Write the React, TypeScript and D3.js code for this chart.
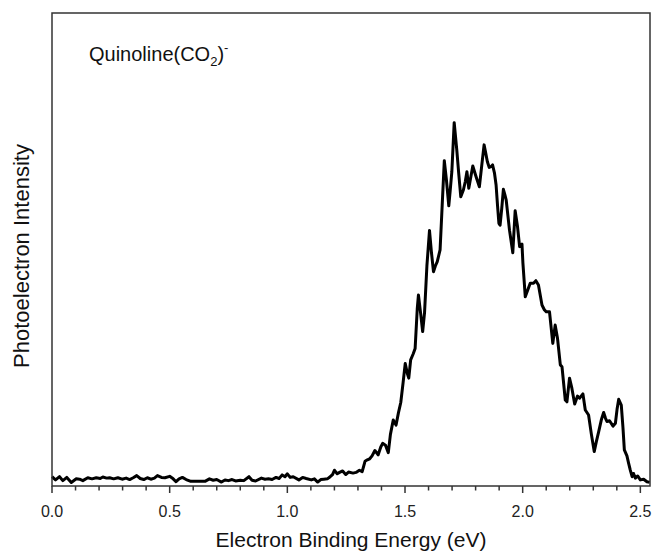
import React from "react";
import * as d3 from "d3";

const energy: number[] = [
  0.000, 0.015, 0.032, 0.046, 0.063, 0.082, 0.103, 0.117, 0.131, 0.152, 0.170, 0.188, 0.205, 0.216, 0.232, 0.245,
  0.262, 0.280, 0.298, 0.315, 0.330, 0.345, 0.360, 0.375, 0.390, 0.405, 0.420, 0.435, 0.448, 0.465, 0.480, 0.500,
  0.515, 0.527, 0.540, 0.554, 0.570, 0.590, 0.610, 0.630, 0.650, 0.669, 0.685, 0.700, 0.720, 0.735, 0.750, 0.765,
  0.780, 0.800, 0.815, 0.837, 0.850, 0.865, 0.890, 0.905, 0.920, 0.935, 0.952, 0.965, 0.978, 0.990, 1.000, 1.012,
  1.025, 1.049, 1.065, 1.080, 1.102, 1.115, 1.129, 1.142, 1.155, 1.170, 1.182, 1.192, 1.200, 1.212, 1.222, 1.235,
  1.248, 1.260, 1.279, 1.292, 1.306, 1.318, 1.330, 1.340, 1.350, 1.360, 1.372, 1.386, 1.397, 1.405, 1.417, 1.429,
  1.438, 1.450, 1.462, 1.472, 1.482, 1.492, 1.501, 1.510, 1.516, 1.524, 1.535, 1.543, 1.552, 1.557, 1.566, 1.575,
  1.583, 1.593, 1.604, 1.612, 1.621, 1.629, 1.637, 1.649, 1.658, 1.667, 1.676, 1.686, 1.692, 1.699, 1.709, 1.720,
  1.728, 1.737, 1.748, 1.756, 1.763, 1.771, 1.780, 1.788, 1.802, 1.816, 1.826, 1.836, 1.843, 1.850, 1.858, 1.865,
  1.872, 1.880, 1.887, 1.893, 1.899, 1.904, 1.911, 1.918, 1.924, 1.930, 1.944, 1.958, 1.968, 1.978, 1.987, 1.997,
  2.001, 2.011, 2.020, 2.032, 2.046, 2.056, 2.067, 2.082, 2.092, 2.100, 2.114, 2.128, 2.138, 2.148, 2.160, 2.167,
  2.181, 2.188, 2.199, 2.209, 2.221, 2.233, 2.242, 2.256, 2.266, 2.280, 2.292, 2.304, 2.313, 2.323, 2.334, 2.344,
  2.352, 2.358, 2.369, 2.384, 2.394, 2.401, 2.408, 2.419, 2.426, 2.432, 2.443, 2.450, 2.457, 2.465, 2.471, 2.479,
  2.489, 2.500, 2.514, 2.528, 2.540,
];

const intensity: number[] = [
  12, 3, 12, 1, 10, -4, 6, 5, 1, 9, 6, 9, 7, 11, 8, 9,
  6, 9, 5, 8, 4, 9, 15, 7, 4, 9, 5, 8, 15, 10, 9, 13,
  6, -2, 6, 10, 4, -1, -1, -1, -1, 6, 2, 4, -3, 3, 1, 4,
  0, 2, 1, 12, 2, 0, 8, 5, 6, 4, 10, 7, 17, 12, 20, 10,
  12, 3, 10, 7, 3, 6, -3, 4, 5, 6, 12, 18, 30, 20, 24, 28,
  18, 25, 22, 24, 30, 26, 55, 59, 62, 70, 85, 73, 95, 105, 100, 79,
  130, 170, 156, 190, 219, 275, 328, 300, 287, 338, 355, 370, 480, 519, 470, 417,
  470, 600, 699, 640, 584, 600, 612, 645, 770, 894, 840, 768, 810, 863, 1000, 924,
  860, 793, 812, 835, 863, 817, 850, 879, 849, 821, 880, 938, 915, 891, 875, 877,
  882, 860, 826, 770, 719, 714, 760, 814, 800, 784, 700, 637, 754, 710, 654, 661,
  608, 514, 530, 552, 552, 559, 547, 491, 478, 472, 472, 384, 435, 398, 324, 319,
  226, 221, 287, 259, 215, 237, 231, 243, 198, 184, 130, 82, 110, 138, 170, 191,
  175, 166, 168, 153, 161, 200, 228, 212, 150, 87, 70, 50, 31, 12, 21, 8,
  14, 3, 5, -2, -4,
];

const majorTicks: number[] = [0.0, 0.5, 1.0, 1.5, 2.0, 2.5];
const tickLabels: string[] = ["0.0", "0.5", "1.0", "1.5", "2.0", "2.5"];
const xDomain: number[] = [0, 2.541];
const yDomain: number[] = [-14, 1306];

const titleMain = "Quinoline(CO";
const titleSub = "2";
const titleClose = ")";
const titleSup = "-";
const xTitle = "Electron Binding Energy (eV)";
const yTitle = "Photoelectron Intensity";

const W = 653;
const H = 557;
const left = 52;
const right = 650;
const top = 13;
const bottom = 486;
const FONT = "'Liberation Sans', Arial, sans-serif";

export default function App() {
  const x = d3.scaleLinear().domain(xDomain).range([left, right]);
  const y = d3.scaleLinear().domain(yDomain).range([bottom, top]);
  const pts: [number, number][] = energy.map((e, i) => [e, intensity[i]]);
  const line = d3
    .line<[number, number]>()
    .x((d) => x(d[0]))
    .y((d) => y(d[1]));

  const minorTicks = d3
    .range(0, 26)
    .map((i) => i / 10)
    .filter((v) => v <= xDomain[1] && Math.round(v * 10) % 5 !== 0);

  return (
    <svg
      width={W}
      height={H}
      style={{ position: "absolute", left: 0, top: 0, background: "#fff" }}
      fontFamily={FONT}
    >
      <rect x={0} y={0} width={W} height={H} fill="#fff" />
      <path d={line(pts) || ""} fill="none" stroke="#000" strokeWidth={3} strokeLinejoin="round" />
      <rect x={left} y={top} width={right - left} height={bottom - top} fill="none" stroke="#333" strokeWidth={1.5} />
      {majorTicks.map((t, i) => (
        <g key={"M" + i}>
          <line x1={x(t)} x2={x(t)} y1={bottom} y2={bottom + 7} stroke="#333" strokeWidth={1.5} />
          <text x={x(t)} y={517} textAnchor="middle" fontSize={16} fill="#222">
            {tickLabels[i]}
          </text>
        </g>
      ))}
      {minorTicks.map((t, i) => (
        <line key={"m" + i} x1={x(t)} x2={x(t)} y1={bottom} y2={bottom + 4.5} stroke="#333" strokeWidth={1.5} />
      ))}
      <text x={89} y={61} fontSize={20} fill="#111">
        {titleMain}
        <tspan fontSize={13} dy={5}>{titleSub}</tspan>
        <tspan fontSize={20} dy={-5}>{titleClose}</tspan>
        <tspan fontSize={13} dy={-9}>{titleSup}</tspan>
      </text>
      <text x={(left + right) / 2} y={547} textAnchor="middle" fontSize={21} fill="#111">
        {xTitle}
      </text>
      <text transform={`translate(29, 256) rotate(-90)`} textAnchor="middle" fontSize={22} fill="#111">
        {yTitle}
      </text>
    </svg>
  );
}
